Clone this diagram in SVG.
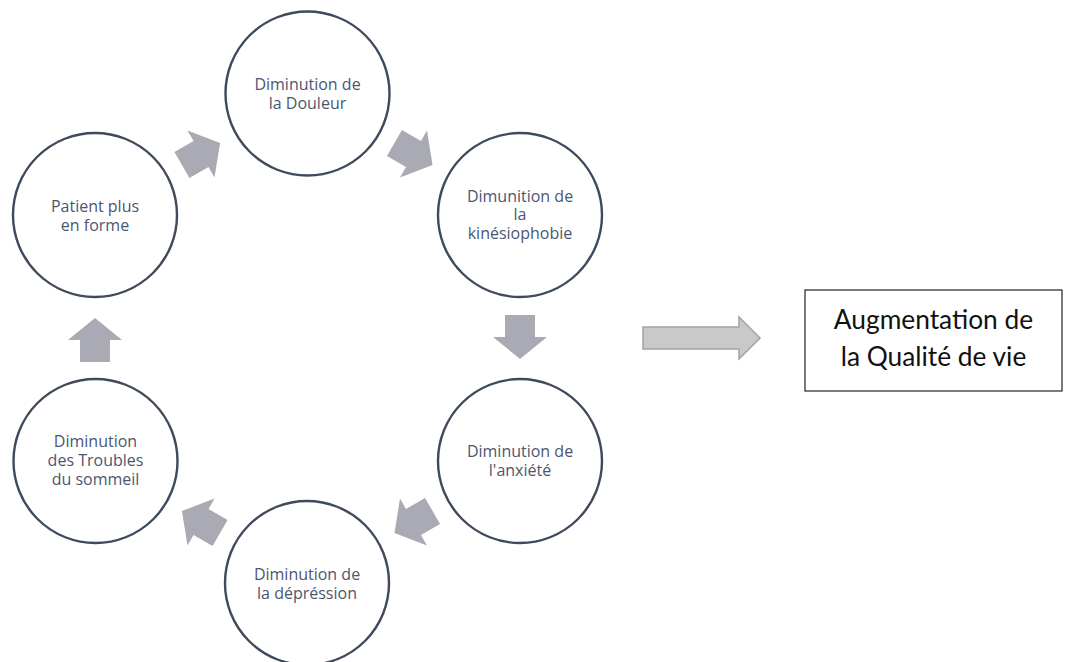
<svg xmlns="http://www.w3.org/2000/svg" width="1066" height="662" viewBox="0 0 1066 662">
<style>
.c{fill:#fff;stroke:#3f4a5c;stroke-width:2.4}
.t{font-family:"Open Sans","Liberation Sans",sans-serif;font-size:16px;fill:#4b5670;text-anchor:middle}
.a{fill:#a9aab4}
.big{fill:#c9c9c9;stroke:#a3a3a3;stroke-width:1.5}
.bt{font-family:Lato,"Open Sans","Liberation Sans",sans-serif;font-size:26.3px;fill:#111;text-anchor:middle}
</style>
<defs>
<path id="arr" d="M-22,-15 L0,-15 L0,-27 L22,0 L0,27 L0,15 L-22,15 Z"/>
</defs>
<rect width="1066" height="662" fill="#fff"/>
<g id="connectors">
<use href="#arr" class="a" transform="translate(201,154) rotate(-30)"/>
<use href="#arr" class="a" transform="translate(413.5,154) rotate(30)"/>
<use href="#arr" class="a" transform="translate(520,337) rotate(90)"/>
<use href="#arr" class="a" transform="translate(413.5,522) rotate(150)"/>
<use href="#arr" class="a" transform="translate(201,522) rotate(210)"/>
<use href="#arr" class="a" transform="translate(95,340) rotate(270)"/>
<path class="big" d="M643,327 L739,327 L739,317 L760,338 L739,359 L739,349 L643,349 Z"/>
</g>
<g id="douleur">
<circle class="c" cx="307.5" cy="93.5" r="82"/>
<text class="t" x="307.5" y="89.5">Diminution de</text>
<text class="t" x="307.5" y="108.5">la Douleur</text>
</g>
<g id="kinesiophobie">
<circle class="c" cx="520" cy="215" r="82"/>
<text class="t" x="520" y="202">Dimunition de</text>
<text class="t" x="520" y="220">la</text>
<text class="t" x="520" y="238.5">kinésiophobie</text>
</g>
<g id="anxiete">
<circle class="c" cx="520" cy="461" r="82"/>
<text class="t" x="520" y="457">Diminution de</text>
<text class="t" x="520" y="476">l'anxiété</text>
</g>
<g id="depression">
<circle class="c" cx="307" cy="583" r="82"/>
<text class="t" x="307" y="580">Diminution de</text>
<text class="t" x="307" y="598.5">la dépréssion</text>
</g>
<g id="troubles">
<circle class="c" cx="95.5" cy="461" r="82"/>
<text class="t" x="95.5" y="447">Diminution</text>
<text class="t" x="95.5" y="466">des Troubles</text>
<text class="t" x="95.5" y="485">du sommeil</text>
</g>
<g id="patient">
<circle class="c" cx="95" cy="215" r="82"/>
<text class="t" x="95" y="212">Patient plus</text>
<text class="t" x="95" y="230.5">en forme</text>
</g>
<g id="qualite">
<rect x="805" y="290" width="257" height="101" fill="#fff" stroke="#222" stroke-width="1.2"/>
<text class="bt" x="933.5" y="329">Augmentation de</text>
<text class="bt" x="933.5" y="366">la Qualité de vie</text>
</g>
</svg>
